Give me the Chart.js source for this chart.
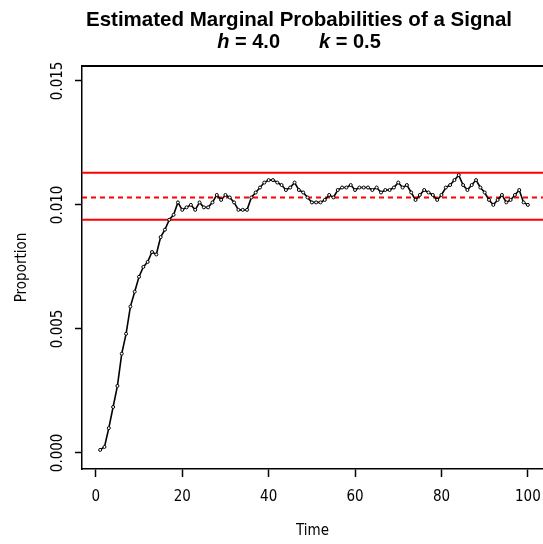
<!DOCTYPE html>
<html>
<head>
<meta charset="utf-8">
<script src="https://cdn.jsdelivr.net/npm/chart.js@4.4.1/dist/chart.umd.min.js"></script>
<style>
  html, body { margin: 0; padding: 0; background: #fff; }
  canvas { display: block; }
</style>
</head>
<body>
<canvas id="signalChart" width="543" height="544"></canvas>
<script>
const times = [
  1, 2, 3, 4, 5, 6, 7, 8, 9, 10, 11, 12, 13, 14, 15, 16, 17, 18, 19, 20,
  21, 22, 23, 24, 25, 26, 27, 28, 29, 30, 31, 32, 33, 34, 35, 36, 37, 38, 39, 40,
  41, 42, 43, 44, 45, 46, 47, 48, 49, 50, 51, 52, 53, 54, 55, 56, 57, 58, 59, 60,
  61, 62, 63, 64, 65, 66, 67, 68, 69, 70, 71, 72, 73, 74, 75, 76, 77, 78, 79, 80,
  81, 82, 83, 84, 85, 86, 87, 88, 89, 90, 91, 92, 93, 94, 95, 96, 97, 98, 99, 100
];

// estimated marginal probability of a signal at each time
const proportion = [
  0.00012, 0.00024, 0.0010, 0.00185, 0.0027, 0.0040, 0.0048, 0.0059, 0.0065, 0.0071,
  0.0075, 0.0077, 0.0081, 0.0080, 0.0087, 0.0090, 0.0094, 0.0096, 0.0101, 0.0098,
  0.0099, 0.0100, 0.0098, 0.0101, 0.0099, 0.0099, 0.0101, 0.0104, 0.0102, 0.0104,
  0.0103, 0.0101, 0.0098, 0.0098, 0.0098, 0.0103, 0.0105, 0.0107, 0.0109, 0.0110,
  0.0110, 0.0109, 0.0108, 0.0106, 0.0107, 0.0109, 0.0106, 0.0105, 0.0103, 0.0101,
  0.0101, 0.0101, 0.0102, 0.0104, 0.0103, 0.0106, 0.0107, 0.0107, 0.0108, 0.0106,
  0.0107, 0.0107, 0.0107, 0.0106, 0.0107, 0.0105, 0.0106, 0.0106, 0.0107, 0.0109,
  0.0107, 0.0108, 0.0105, 0.0102, 0.0104, 0.0106, 0.0105, 0.0104, 0.0102, 0.0104,
  0.0107, 0.0108, 0.0110, 0.0112, 0.0108, 0.0106, 0.0108, 0.0110, 0.0107, 0.0105,
  0.0102, 0.0100, 0.0102, 0.0104, 0.0101, 0.0102, 0.0104, 0.0106, 0.0101, 0.0100
];

const upperLimit = 0.0113;
const centerLine = 0.0103;
const lowerLimit = 0.0094;

const xTicks = [0, 20, 40, 60, 80, 100];
const yTicks = [0, 0.005, 0.010, 0.015];
const xRange = [-3.2, 103.5];
const yRange = [-0.00065, 0.0156];

const labelFont = '"Liberation Sans Narrow", "DejaVu Sans Condensed", "Liberation Sans", sans-serif';

function flatLine(level) {
  return [{ x: xRange[0], y: level }, { x: xRange[1], y: level }];
}

// R-style two line title, h and k in bold italic
const titlePlugin = {
  id: "rTitle",
  afterDraw(chart) {
    const ctx = chart.ctx;
    const cx = 299;
    ctx.save();
    ctx.fillStyle = "#000";
    ctx.textBaseline = "alphabetic";
    ctx.textAlign = "center";
    ctx.font = 'bold 20.5px "Liberation Sans", Arial, sans-serif';
    ctx.fillText("Estimated Marginal Probabilities of a Signal", cx, 26);

    const parts = [
      { text: "h", italic: true }, { text: " = 4.0", italic: false },
      { gap: 39 },
      { text: "k", italic: true }, { text: " = 0.5", italic: false }
    ];
    const fontFor = p => (p.italic ? "italic " : "") + 'bold 20px "Liberation Sans", Arial, sans-serif';
    let total = 0;
    parts.forEach(p => {
      if (p.gap) { total += p.gap; return; }
      ctx.font = fontFor(p);
      total += ctx.measureText(p.text).width;
    });
    let x = cx - total / 2;
    ctx.textAlign = "left";
    parts.forEach(p => {
      if (p.gap) { x += p.gap; return; }
      ctx.font = fontFor(p);
      ctx.fillText(p.text, x, 48);
      x += ctx.measureText(p.text).width;
    });
    ctx.restore();
  }
};

const ctx = document.getElementById("signalChart");
new Chart(ctx, {
  type: "line",
  data: {
    datasets: [
      {
        label: "Proportion",
        data: times.map((t, i) => ({ x: t, y: proportion[i] })),
        borderColor: "#000",
        borderWidth: 1.6,
        pointRadius: 1.5,
        pointBackgroundColor: "#fff",
        pointBorderColor: "#000",
        pointBorderWidth: 1,
        tension: 0
      },
      {
        label: "Upper",
        data: flatLine(upperLimit),
        borderColor: "#ff0000",
        borderWidth: 2,
        pointRadius: 0
      },
      {
        label: "Center",
        data: flatLine(centerLine),
        borderColor: "#ff0000",
        borderWidth: 2,
        borderDash: [5, 4],
        pointRadius: 0
      },
      {
        label: "Lower",
        data: flatLine(lowerLimit),
        borderColor: "#ff0000",
        borderWidth: 2,
        pointRadius: 0
      }
    ]
  },
  options: {
    responsive: false,
    animation: false,
    layout: { autoPadding: false, padding: { top: 66, left: 0, right: 0, bottom: 0 } },
    plugins: {
      legend: { display: false },
      tooltip: { enabled: false }
    },
    scales: {
      x: {
        type: "linear",
        position: "bottom",
        min: xRange[0],
        max: xRange[1],
        afterBuildTicks: axis => { axis.ticks = xTicks.map(v => ({ value: v })); },
        afterFit: axis => {
          axis.height = 75;
          axis.paddingLeft = 0;
          axis.paddingRight = 0;
        },
        grid: { drawOnChartArea: false, drawTicks: true, tickLength: 8, color: "#000", tickWidth: 1.5 },
        border: { display: true, color: "#000", width: 1.5 },
        ticks: {
          color: "#000",
          padding: 11,
          maxRotation: 0,
          font: { family: labelFont, size: 15 }
        },
        title: {
          display: true,
          text: "Time",
          color: "#000",
          padding: { top: 0, bottom: 4 },
          font: { family: labelFont, size: 15, lineHeight: 1.2 }
        }
      },
      x2: {
        type: "linear",
        position: "top",
        min: xRange[0],
        max: xRange[1],
        afterFit: axis => {
          axis.height = 0;
          axis.paddingLeft = 0;
          axis.paddingRight = 0;
        },
        grid: { drawOnChartArea: false, drawTicks: false },
        border: { display: true, color: "#000", width: 2 },
        ticks: { display: false }
      },
      y: {
        type: "linear",
        min: yRange[0],
        max: yRange[1],
        afterBuildTicks: axis => { axis.ticks = yTicks.map(v => ({ value: v })); },
        afterFit: axis => {
          axis.width = 82;
          axis.paddingTop = 0;
          axis.paddingBottom = 0;
        },
        grid: { drawOnChartArea: false, drawTicks: true, tickLength: 7, color: "#000", tickWidth: 1.5 },
        border: { display: true, color: "#000", width: 1.5 },
        ticks: {
          color: "#000",
          padding: -2,
          minRotation: 90,
          maxRotation: 90,
          crossAlign: "center",
          font: { family: labelFont, size: 15 },
          callback: v => v.toFixed(3)
        },
        title: {
          display: true,
          text: "Proportion",
          color: "#000",
          padding: { top: 13, bottom: 0 },
          font: { family: labelFont, size: 15, lineHeight: 1.2 }
        }
      }
    }
  },
  plugins: [titlePlugin]
});
</script>
</body>
</html>
